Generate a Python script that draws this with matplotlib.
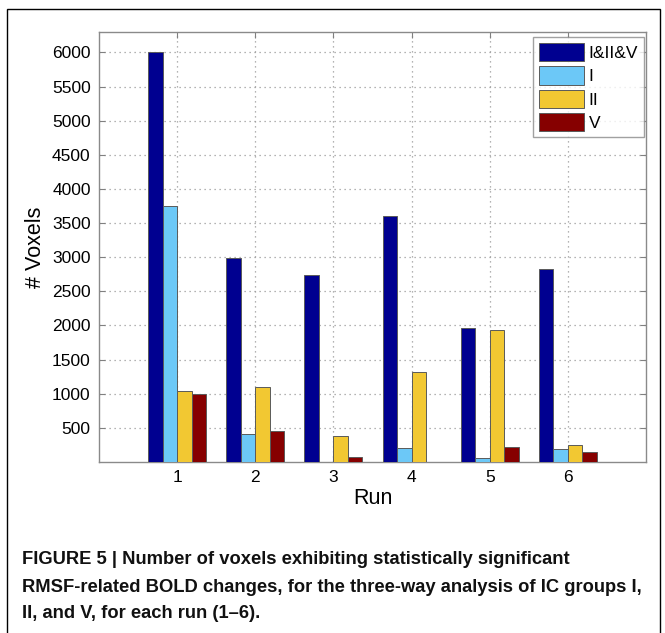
import matplotlib
matplotlib.use("Agg")
import matplotlib.pyplot as plt
import numpy as np
from matplotlib.patches import Rectangle

runs = [1, 2, 3, 4, 5, 6]
series_names = ["I&II&V", "I", "II", "V"]
v_all = [6000, 2990, 2735, 3605, 1970, 2825]
v_I = [3750, 405, 0, 205, 62, 195]
v_II = [1035, 1098, 388, 1320, 1930, 244]
v_V = [990, 460, 66, 0, 225, 152]
colors = ["#000090", "#6CC8F7", "#F2C832", "#860000"]
yticks = [500, 1000, 1500, 2000, 2500, 3000, 3500, 4000, 4500, 5000, 5500, 6000]
caption_lines = [
    "FIGURE 5 | Number of voxels exhibiting statistically significant",
    "RMSF-related BOLD changes, for the three-way analysis of IC groups I,",
    "II, and V, for each run (1\u20136).",
]

plt.rcParams['font.family'] = ['Liberation Sans', 'DejaVu Sans']

fig = plt.figure(figsize=(6.65, 6.33), dpi=100)
ax = fig.add_axes([99/665, 1 - 462/633, (646-99)/665, (462-32)/633])

x = np.array(runs, dtype=float)
w = 0.186
data = [v_all, v_I, v_II, v_V]
for i, (vals, c, name) in enumerate(zip(data, colors, series_names)):
    ax.bar(x + (i - 1.5) * w, vals, width=w, color=c, edgecolor="#5a5a5a",
           linewidth=0.7, label=name, zorder=3)

ax.set_xlim(0, 7)
ax.set_ylim(0, 6300)
ax.set_xticks(runs)
ax.set_yticks(yticks)
ax.tick_params(direction='in', length=4, color='#808080', labelsize=12.5,
               top=True, right=True, pad=6)
ax.grid(True, linestyle=(0, (1, 3)), color='#9a9a9a', linewidth=0.9, zorder=0)
for s in ax.spines.values():
    s.set_color('#8a8a8a')
    s.set_linewidth(1.0)
ax.set_xlabel("Run", fontsize=15.5, labelpad=2)
ax.set_ylabel("# Voxels", fontsize=15.5, labelpad=4)

leg = ax.legend(loc='upper right', bbox_to_anchor=(1 - 2/547, 1 - 5/430),
                fontsize=12.5, frameon=True, fancybox=False,
                edgecolor='#8a8a8a', handlelength=2.6, handleheight=1.25,
                handletextpad=0.25, labelspacing=0.28, borderpad=0.35,
                borderaxespad=0.0)
leg.get_frame().set_linewidth(1.0)

# outer border
fig.patches.append(Rectangle((7/665, -0.02), (660-7)/665, 1 - 9/633 + 0.02,
                             transform=fig.transFigure, fill=False,
                             edgecolor='black', linewidth=1.0))

for k, line in enumerate(caption_lines):
    fig.text(22/665, 1 - (560 + 27*k)/633, line, fontsize=13.2, fontweight='bold',
             va='center', ha='left', color='#111111')

fig.savefig("out.png", dpi=100)
